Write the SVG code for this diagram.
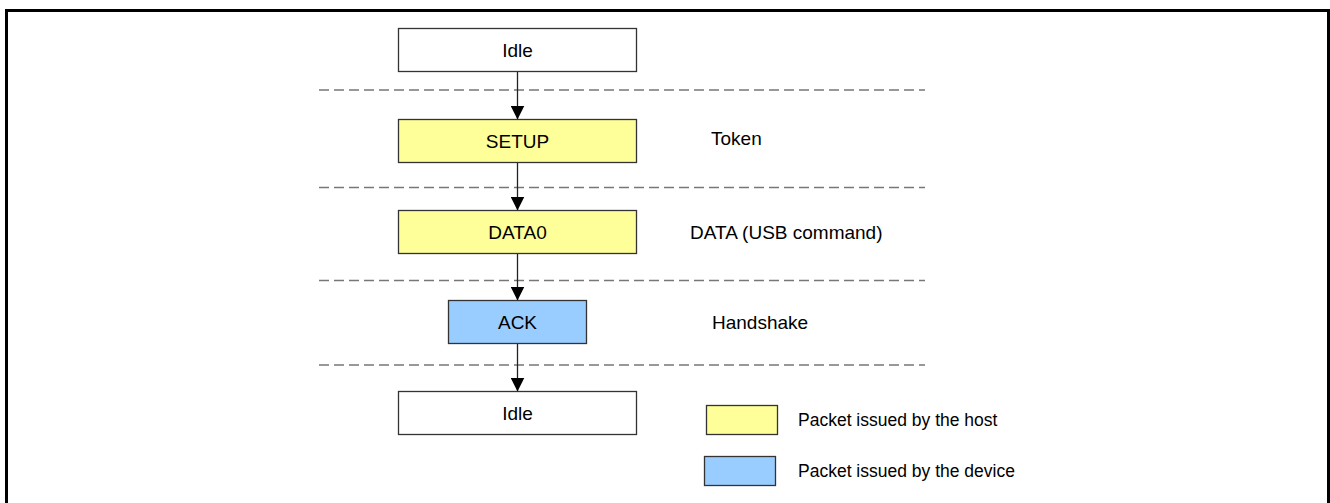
<svg xmlns="http://www.w3.org/2000/svg" width="1330" height="503" viewBox="0 0 1330 503">
  <style>
    text { font-family: "Liberation Sans", Arial, sans-serif; font-size: 19px; fill: #000; }
    .box { stroke: #333; stroke-width: 1.3; }
    .idle { fill: #fff; }
    .host { fill: #ffff99; }
    .dev { fill: #99ccff; }
    .sep { stroke: #777; stroke-width: 1.5; stroke-dasharray: 10 5; fill: none; }
    .link { stroke: #222; stroke-width: 1.3; fill: none; marker-end: url(#arrow); }
    .mid { text-anchor: middle; }
    .legend { font-size: 17.5px; }
  </style>
  <defs>
    <marker id="arrow" viewBox="0 0 14 14" refX="14" refY="7" markerWidth="14" markerHeight="14" markerUnits="userSpaceOnUse" orient="auto">
      <path d="M0,0 L14,7 L0,14 Z" fill="#000"/>
    </marker>
  </defs>

  <!-- outer frame, open at the bottom -->
  <path d="M6.5,503 V10.5 H1328.5 V503" fill="none" stroke="#000" stroke-width="3"/>

  <!-- phase separators -->
  <g id="separators">
    <line class="sep" x1="319" y1="90" x2="925" y2="90"/>
    <line class="sep" x1="319" y1="187.5" x2="925" y2="187.5"/>
    <line class="sep" x1="319" y1="280.5" x2="925" y2="280.5"/>
    <line class="sep" x1="319" y1="365" x2="925" y2="365"/>
  </g>

  <!-- connectors -->
  <g id="connectors">
    <line class="link" x1="517.5" y1="71.5" x2="517.5" y2="119.5"/>
    <line class="link" x1="517.5" y1="162.5" x2="517.5" y2="210.5"/>
    <line class="link" x1="517.5" y1="253.5" x2="517.5" y2="300.5"/>
    <line class="link" x1="517.5" y1="343.5" x2="517.5" y2="391.5"/>
  </g>

  <g id="idle-start">
    <rect class="box idle" x="398.5" y="28.5" width="238" height="43"/>
    <text class="mid" x="517.5" y="56.5">Idle</text>
  </g>
  <g id="setup">
    <rect class="box host" x="398.5" y="119.5" width="238" height="43"/>
    <text class="mid" x="517.5" y="147.5">SETUP</text>
  </g>
  <g id="data0">
    <rect class="box host" x="398.5" y="210.5" width="238" height="43"/>
    <text class="mid" x="517.5" y="238.5">DATA0</text>
  </g>
  <g id="ack">
    <rect class="box dev" x="448.5" y="300.5" width="138" height="43"/>
    <text class="mid" x="517.5" y="328.5">ACK</text>
  </g>
  <g id="idle-end">
    <rect class="box idle" x="398.5" y="391.5" width="238" height="43"/>
    <text class="mid" x="517.5" y="419.5">Idle</text>
  </g>

  <!-- phase labels -->
  <g id="phase-labels">
    <text x="711" y="144.5">Token</text>
    <text x="690" y="239">DATA (USB command)</text>
    <text x="712" y="328.5">Handshake</text>
  </g>

  <!-- legend -->
  <g id="legend-host">
    <rect class="box host" x="706.5" y="405.5" width="71" height="29"/>
    <text class="legend" x="798" y="426">Packet issued by the host</text>
  </g>
  <g id="legend-device">
    <rect class="box dev" x="704.5" y="456.5" width="71" height="29"/>
    <text class="legend" x="798" y="477">Packet issued by the device</text>
  </g>
</svg>
